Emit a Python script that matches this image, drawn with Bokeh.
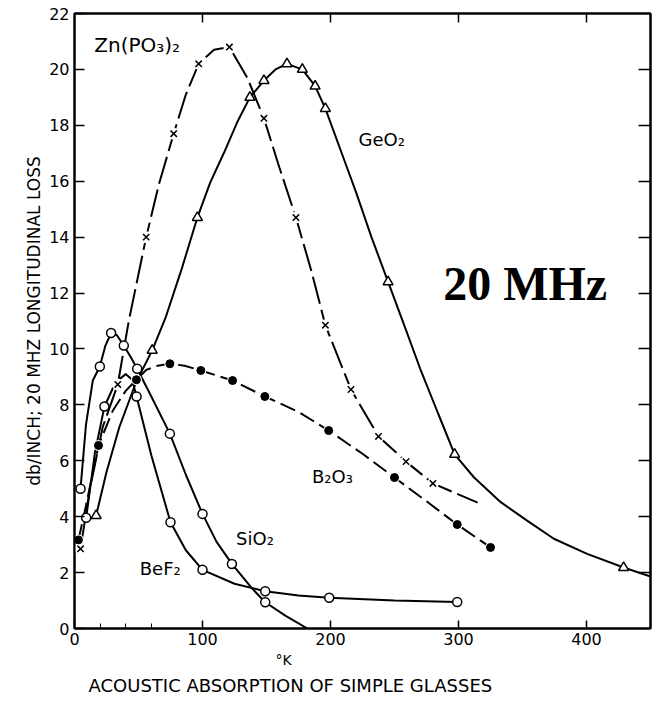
from bokeh.plotting import figure
from bokeh.models import Range1d, LinearAxis, FixedTicker, Label, Title
from bokeh.embed import file_html
from bokeh.resources import INLINE

# ---------------- data ----------------
# Zn(PO3)2  (x markers, long-dash line)
zn_mx = [4.7, 33.8, 56, 77.5, 97, 121, 148, 173, 196, 216, 237.5, 259, 280]
zn_my = [2.85, 8.73, 14.0, 17.7, 20.2, 20.8, 18.25, 14.7, 10.85, 8.55, 6.87, 5.97, 5.19]
zn_lx = [4.7, 12, 22, 33.8, 42.4, 56, 66, 77.5, 87, 97, 109, 121, 135, 148, 160, 173, 185, 196, 216, 237.5, 259, 280, 315]
zn_ly = [2.85, 5.0, 7.2, 8.73, 11.0, 14.0, 15.9, 17.7, 19.1, 20.2, 20.7, 20.8, 19.7, 18.25, 16.5, 14.7, 12.8, 10.85, 8.55, 6.87, 5.97, 5.19, 4.5]

# GeO2 (open triangles, solid line)
ge_mx = [16.9, 60.7, 96, 137, 148, 166, 178, 188, 196, 245, 297, 429]
ge_my = [4.04, 9.95, 14.7, 19.0, 19.6, 20.2, 20.0, 19.4, 18.6, 12.4, 6.23, 2.18]
ge_lx = [16.9, 25, 35, 48, 60.7, 71, 84, 96, 106, 116.6, 127, 137, 148, 157, 166, 178, 188, 196, 208, 220, 232, 245, 258, 270, 284, 297,
         312, 333, 353.6, 374.5, 400.5, 429, 450]
ge_ly = [4.04, 5.6, 7.2, 8.8, 9.95, 11.1, 12.9, 14.7, 15.95, 17.0, 18.1, 19.0, 19.6, 20.0, 20.2, 20.0, 19.4, 18.6, 17.1, 15.6, 14.0, 12.4, 10.8, 9.3, 7.7, 6.23,
         5.41, 4.52, 3.86, 3.21, 2.67, 2.18, 1.86]

# B2O3 (filled circles, dashed line)
b_mx = [3.1, 18.75, 48.4, 74.5, 98.7, 123.5, 148.7, 198.6, 250, 299, 325]
b_my = [3.17, 6.55, 8.9, 9.47, 9.23, 8.87, 8.3, 7.08, 5.4, 3.72, 2.9]
b_lx = [3.1, 9, 18.75, 30, 40, 48.4, 56, 65, 74.5, 86, 98.7, 123.5, 148.7, 175, 198.6, 225, 250, 275, 299, 325]
b_ly = [3.17, 4.4, 6.55, 7.8, 8.5, 8.9, 9.25, 9.4, 9.47, 9.4, 9.23, 8.87, 8.3, 7.75, 7.08, 6.25, 5.4, 4.55, 3.72, 2.9]

# SiO2 (open circles, solid line)
si_mx = [4.7, 19.8, 28.6, 38.5, 49, 74.5, 100, 123, 149]
si_my = [5.0, 9.37, 10.57, 10.12, 9.29, 6.97, 4.1, 2.31, 0.94]
si_lx = [4.7, 9, 14.3, 19.8, 24, 28.6, 33, 38.5, 44, 49, 60, 74.5, 87, 100, 111, 123, 139, 149, 165, 182]
si_ly = [5.0, 7.3, 8.87, 9.37, 10.1, 10.57, 10.5, 10.12, 9.7, 9.29, 8.3, 6.97, 5.5, 4.1, 3.1, 2.31, 1.42, 0.94, 0.45, 0.0]

# BeF2 (open circles, solid line)
be_mx = [9.1, 23.4, 48.5, 75, 100, 149, 199, 299]
be_my = [3.96, 7.94, 8.3, 3.8, 2.1, 1.33, 1.1, 0.95]
be_lx = [9.1, 16, 23.4, 32, 40, 45, 48.5, 60, 75, 87, 100, 125, 149, 175, 199, 250, 299]
be_ly = [3.96, 6.3, 7.94, 8.8, 9.1, 8.9, 8.3, 6.2, 3.8, 2.8, 2.1, 1.6, 1.33, 1.18, 1.1, 1.0, 0.95]

x_ticks = [0, 100, 200, 300, 400]
x_minor = [20, 40, 60]
y_ticks = list(range(0, 23, 2))
right_ticks = list(range(2, 21, 2))
top_ticks = [100, 200, 300, 400]

FONT = "DejaVu Sans"

p = figure(frame_width=576, frame_height=615, output_backend="svg", toolbar_location=None,
           x_range=Range1d(0, 450), y_range=Range1d(0, 22),
           min_border_left=74, min_border_right=5, min_border_top=13, min_border_bottom=75)
p.background_fill_color = "white"
p.border_fill_color = "white"
p.grid.visible = False
p.outline_line_color = "black"
p.outline_line_width = 2

xa = p.xaxis[0]
xa.ticker = FixedTicker(ticks=x_ticks, minor_ticks=x_minor)
xa.major_tick_in = 8
xa.major_tick_out = 0
xa.minor_tick_in = 5
xa.minor_tick_out = 0
xa.axis_line_width = 2
xa.major_tick_line_width = 1.5
xa.major_label_text_font = FONT
xa.major_label_text_font_size = "16px"
xa.major_label_text_color = "black"
xa.major_label_standoff = 4

ya = p.yaxis[0]
ya.ticker = FixedTicker(ticks=y_ticks)
ya.major_tick_in = 10
ya.major_tick_out = 0
ya.minor_tick_line_color = None
ya.axis_line_width = 2
ya.major_tick_line_width = 1.5
ya.major_label_text_font = FONT
ya.major_label_text_font_size = "16px"
ya.major_label_text_color = "black"
ya.major_label_standoff = 5
ya.axis_label = "db/INCH; 20 MHZ LONGITUDINAL LOSS"
ya.axis_label_text_font = FONT
ya.axis_label_text_font_size = "17px"
ya.axis_label_text_font_style = "normal"
ya.axis_label_text_color = "black"
ya.axis_label_standoff = 2

ra = LinearAxis(ticker=FixedTicker(ticks=right_ticks))
ra.major_tick_in = 12
ra.major_tick_out = 0
ra.minor_tick_line_color = None
ra.major_label_overrides = {t: "" for t in right_ticks}
ra.major_label_standoff = 0
ra.axis_line_width = 2
ra.major_tick_line_width = 1.5
p.add_layout(ra, "right")

ta = LinearAxis(ticker=FixedTicker(ticks=top_ticks))
ta.major_tick_in = 9
ta.major_tick_out = 0
ta.minor_tick_line_color = None
ta.major_label_overrides = {t: "" for t in top_ticks}
ta.major_label_standoff = 0
ta.axis_line_width = 2
ta.major_tick_line_width = 1.5
p.add_layout(ta, "above")

# lines
p.line(zn_lx, zn_ly, line_color="black", line_width=2, line_dash="28 6")
p.line(b_lx, b_ly, line_color="black", line_width=2, line_dash="16 6")
p.line(ge_lx, ge_ly, line_color="black", line_width=2)
p.line(si_lx, si_ly, line_color="black", line_width=2)
p.line(be_lx, be_ly, line_color="black", line_width=2)

# markers
p.scatter(zn_mx, zn_my, marker="circle", size=12, fill_color="white", line_color=None)
p.scatter(zn_mx, zn_my, marker="x", size=9, line_color="black", line_width=1.5)
p.scatter(b_mx, b_my, marker="circle", size=11, fill_color="white", line_color=None)
p.scatter(b_mx, b_my, marker="circle", size=8, fill_color="black", line_color="black")
p.scatter(ge_mx, ge_my, marker="triangle", size=10, fill_color="white", line_color="black", line_width=1.5)
p.scatter(si_mx, si_my, marker="circle", size=9, fill_color="white", line_color="black", line_width=1.5)
p.scatter(be_mx, be_my, marker="circle", size=9, fill_color="white", line_color="black", line_width=1.5)

def lab(x, y, t, size="16px", font=FONT, style="normal", align="center", baseline="middle"):
    p.add_layout(Label(x=x, y=y, text=t, text_font=font, text_font_size=size,
                       text_font_style=style, text_align=align, text_baseline=baseline,
                       text_color="black"))

lab(49, 20.86, "Zn(PO₃)₂", size="20px")
lab(240, 17.5, "GeO₂", size="18px")
lab(201.5, 5.44, "B₂O₃", size="18px")
lab(141, 3.22, "SiO₂", size="18px")
lab(67, 2.15, "BeF₂", size="18px")
lab(288, 12.34, "20 MHz", size="48px", font="Liberation Serif", style="bold", align="left", baseline="alphabetic")

t1 = Title(text="°K", align="left", offset=201, text_font=FONT, text_font_size="14px",
           text_font_style="normal", text_color="black", standoff=4)
p.add_layout(t1, "below")
t2 = Title(text="ACOUSTIC ABSORPTION OF SIMPLE GLASSES", align="left", offset=14, text_font=FONT,
           text_font_size="18px", text_font_style="normal", text_color="black", standoff=7)
p.add_layout(t2, "below")

open("out.html", "w").write(file_html(p, INLINE))
